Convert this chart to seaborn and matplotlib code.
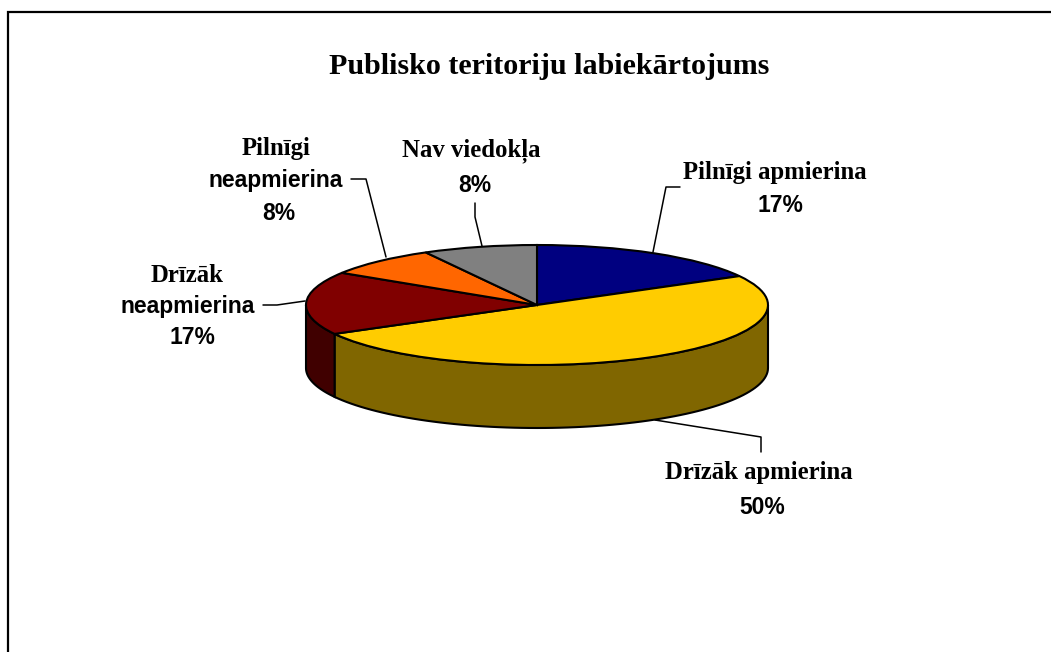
import numpy as np
import matplotlib
matplotlib.use("Agg")
import matplotlib.pyplot as plt
import seaborn as sns

title = "Publisko teritoriju labiekārtojums"
categories = ["Pilnīgi apmierina", "Drīzāk apmierina", "Drīzāk neapmierina", "Pilnīgi neapmierina", "Nav viedokļa"]
values = [17, 50, 17, 8, 8]
top_colors = ["#000080", "#FFCC00", "#800000", "#FF6600", "#808080"]
side_colors = ["#000040", "#806600", "#400000", "#803300", "#404040"]

sns.set_theme(style="white")
W, H = 1051, 652
fig = plt.figure(figsize=(W / 100, H / 100), dpi=100, facecolor="white")

# pie axes, one unit is the ellipse radius
cx, cy, rx, ry, depth = 537, 305, 231, 60, 63
ax = fig.add_axes([0, 0, 1, 1])
ax.pie(values, colors=sns.color_palette(top_colors), startangle=90, counterclock=False,
       wedgeprops=dict(edgecolor="black", linewidth=1.5, zorder=3))
ax.set_aspect("auto")
ax.set_xlim(-cx / rx, (W - cx) / rx)
ax.set_ylim((cy - H) / ry, cy / ry)
ax.set_axis_off()

# side wall, only the front half of the pie shows
d = depth / ry
edges = np.cumsum([0] + values) / sum(values) * 360
for i in range(len(values)):
    a0 = max(edges[i], 90)
    a1 = min(edges[i + 1], 270)
    if a1 <= a0:
        continue
    t = np.radians(np.linspace(a0, a1, 80))
    xs = np.concatenate([np.sin(t), np.sin(t[::-1])])
    ys = np.concatenate([np.cos(t), np.cos(t[::-1]) - d])
    ax.fill(xs, ys, facecolor=side_colors[i], edgecolor="black", linewidth=1.5, zorder=2)

# overlay in picture pixels for text and leader lines
ov = fig.add_axes([0, 0, 1, 1])
ov.set_xlim(0, W)
ov.set_ylim(H, 0)
ov.set_axis_off()
ov.patch.set_alpha(0)

ov.plot([8, 8, W], [H, 12, 12], color="black", lw=1.6, solid_joinstyle="miter", clip_on=False)

serif = "Liberation Serif"
sans = "Liberation Sans"
ov.text(549, 66, title, family=serif, weight="bold", fontsize=21.6, ha="center", va="center", color="black")


def label(x, y, s, fam, size):
    ov.text(x, y, s, family=fam, weight="bold", fontsize=size, ha="center", va="center", color="black")


sz_serif, sz_sans = 17.8, 16.5

label(775, 172, "Pilnīgi apmierina", serif, sz_serif)
label(780, 205, "17%", sans, sz_sans)
label(759, 473, "Drīzāk apmierina", serif, sz_serif)
label(762, 507, "50%", sans, sz_sans)
label(187, 275, "Drīzāk", serif, sz_serif)
label(188, 306, "neapmierina", sans, sz_sans)
label(192, 338, "17%", sans, sz_sans)
label(276, 148, "Pilnīgi", serif, sz_serif)
label(276, 181, "neapmierina", sans, sz_sans)
label(279, 213, "8%", sans, sz_sans)
label(471, 151, "Nav viedokļa", serif, sz_serif)
label(475, 185, "8%", sans, sz_sans)

leaders = [
    ([653, 666, 680], [252, 187, 187]),
    ([655, 761, 761], [420, 437, 452]),
    ([351, 366, 386], [179, 179, 257]),
    ([263, 277, 305], [305, 305, 301]),
    ([475, 475, 482], [203, 217, 246]),
]
for lx, ly in leaders:
    ov.plot(lx, ly, color="black", lw=1.1)

fig.savefig("out.png", dpi=100)
